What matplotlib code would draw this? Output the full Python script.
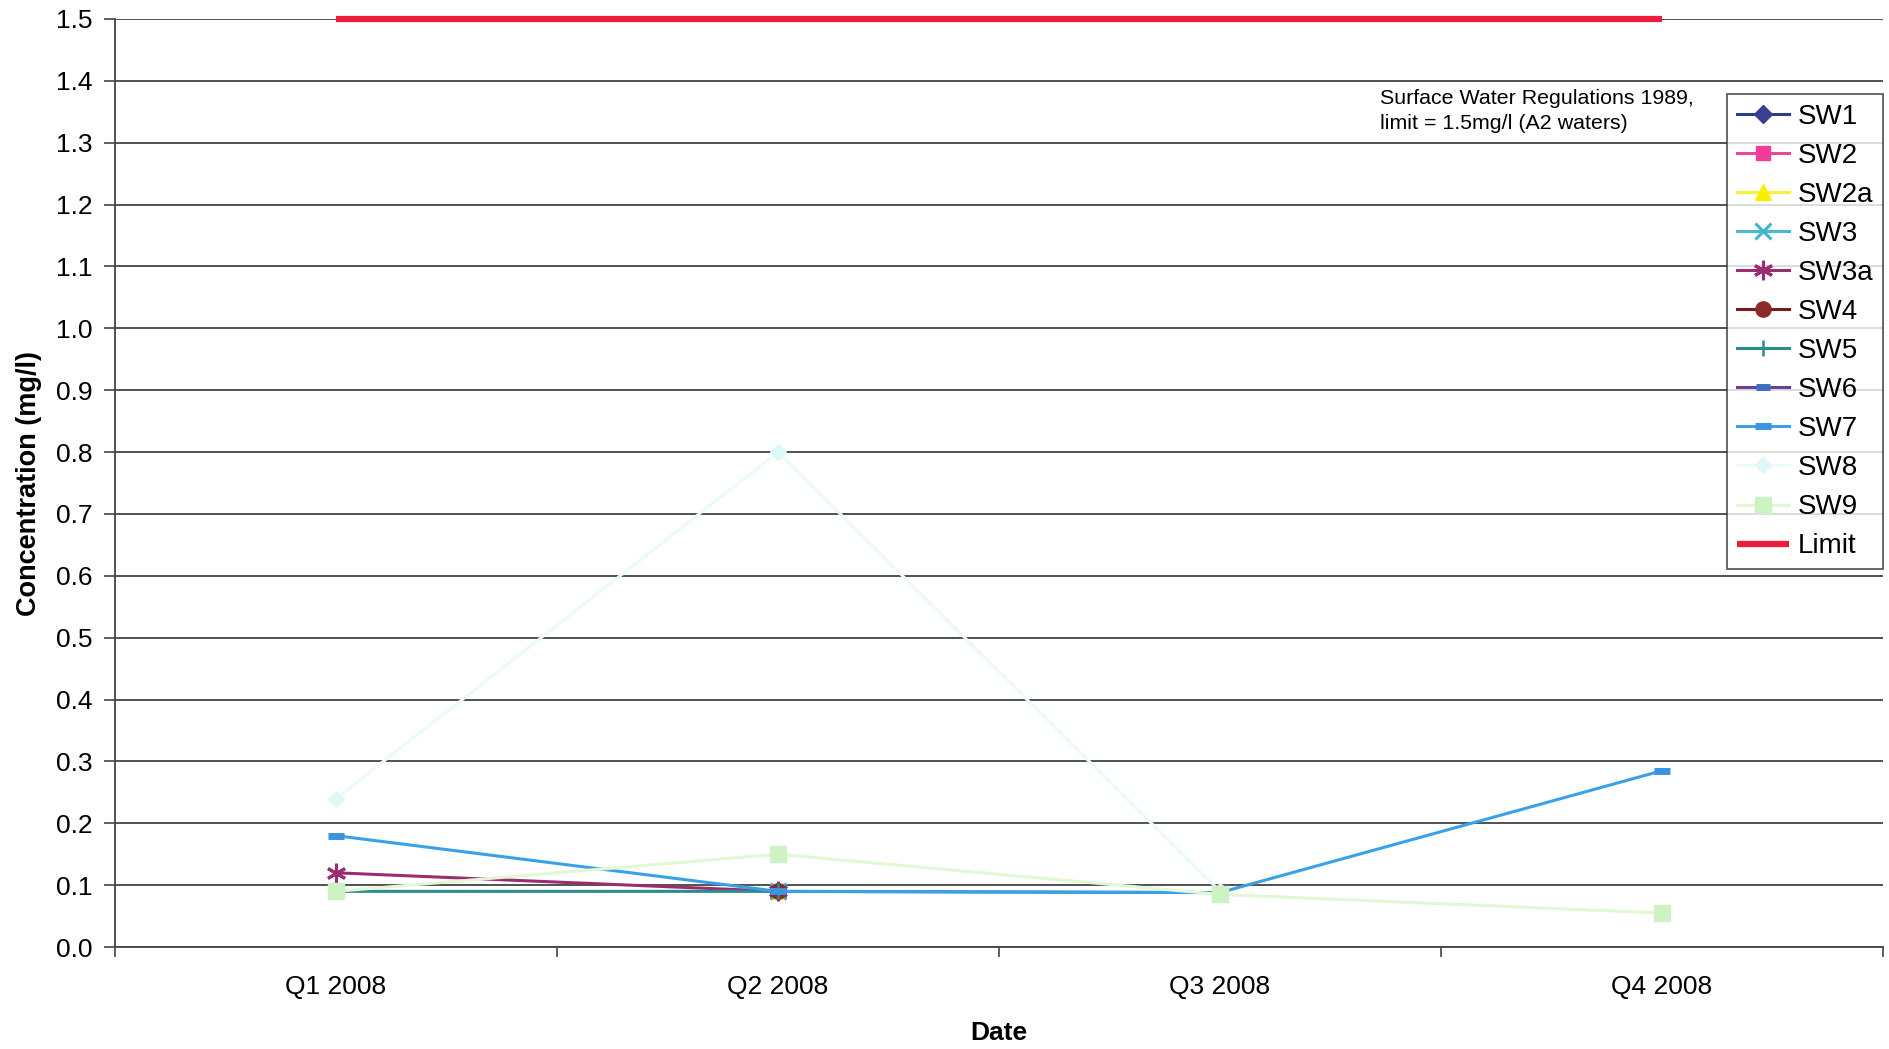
import matplotlib
matplotlib.use("Agg")
import matplotlib.pyplot as plt
import numpy as np

plt.rcParams['font.family'] = ['Liberation Sans', 'DejaVu Sans']

# Sampling quarters
quarters = ["Q1 2008", "Q2 2008", "Q3 2008", "Q4 2008"]
x = np.arange(len(quarters))

# Concentrations (mg/l); None where no sample was reported
sw1 = [None, 0.09, None, None]
sw2 = [None, 0.09, None, None]
sw2a = [None, 0.09, None, None]
sw3 = [None, 0.09, None, None]
sw3a = [0.12, 0.09, None, None]
sw4 = [None, 0.09, None, None]
sw5 = [0.09, 0.09, 0.088, None]
sw6 = [None, 0.09, None, None]
sw7 = [0.18, 0.09, 0.088, 0.285]
sw8 = [0.24, 0.80, 0.09, None]
sw9 = [0.09, 0.15, 0.085, 0.055]
limit = [1.5, 1.5, 1.5, 1.5]

yticks = np.round(np.arange(0, 1.51, 0.1), 1)

series = [
    ("SW1", sw1, dict(color="#2e3a8c", marker="D", ms=9, mfc="#3b3f8f", mec="#3b3f8f")),
    ("SW2", sw2, dict(color="#f0449a", marker="s", ms=10, mfc="#f23d96", mec="#f23d96")),
    ("SW2a", sw2a, dict(color="#f6f23a", marker="^", ms=11, mfc="#f8f000", mec="#f8f000")),
    ("SW3", sw3, dict(color="#4bb9cf", marker="x", ms=11, mew=2.2, mec="#40b6c8")),
    ("SW3a", sw3a, dict(color="#9b2d6e", marker=(6, 2, 0), ms=14, mew=2.2, mec="#9b2d72")),
    ("SW4", sw4, dict(color="#7a1b1b", marker="o", ms=11, mfc="#8a2a2a", mec="#8a2a2a")),
    ("SW5", sw5, dict(color="#2d8c8c", marker="+", ms=12, mew=1.8, mec="#2d8c8c")),
    ("SW6", sw6, dict(color="#6a3f95", marker="_", ms=10, mew=5, mec="#3a6fc0")),
    ("SW7", sw7, dict(color="#3aa0e8", marker="_", ms=12, mew=5, mec="#3a94e0")),
    ("SW8", sw8, dict(color="#ebfafb", marker="D", ms=8, mfc="#def7f9", mec="#def7f9")),
    ("SW9", sw9, dict(color="#e2f7d4", marker="s", ms=11, mfc="#cdf3c5", mec="#cdf3c5")),
]

fig = plt.figure(figsize=(18.89, 10.49), dpi=100)
ax = fig.add_axes([0.0609, 0.0972, 0.9359, 0.8847])

for name, vals, style in series:
    v = np.array([np.nan if d is None else d for d in vals], dtype=float)
    ax.plot(x, v, lw=2.2, label=name, zorder=3, **style)

ax.plot(x, limit, color="#ee1c3c", lw=4.5, label="Limit", zorder=4,
        solid_capstyle="butt", clip_on=False)

ax.set_xlim(-0.5, 3.5)
ax.set_ylim(0, 1.5)
ax.set_yticks(yticks)
ax.set_yticklabels([f"{t:.1f}" for t in yticks], fontsize=19)
ax.yaxis.grid(True, color="#333333", lw=1.2, zorder=0)

ax.set_xticks(x)
ax.set_xticklabels(quarters, fontsize=19)
ax.set_xticks(np.arange(-0.5, 4.0, 1.0), minor=True)
ax.tick_params(axis="x", which="major", length=0, pad=20)
ax.tick_params(axis="x", which="minor", length=7, width=1.2, color="#444444")
ax.tick_params(axis="y", length=8, width=1.2, color="#444444", pad=8)

for side in ("top", "right"):
    ax.spines[side].set_visible(False)
for side in ("left", "bottom"):
    ax.spines[side].set_color("#444444")
    ax.spines[side].set_linewidth(1.3)

ax.set_xlabel("Date", fontsize=19, fontweight="bold", labelpad=16)
ax.set_ylabel("Concentration (mg/l)", fontsize=19.5, fontweight="bold", labelpad=10)

fig.text(1380 / 1889, 1 - 111 / 1049,
         "Surface Water Regulations 1989,\nlimit = 1.5mg/l (A2 waters)",
         fontsize=15.4, va="center", ha="left", linespacing=1.35)

leg = ax.legend(loc="upper right", bbox_to_anchor=(1883 / 1889, 1 - 94 / 1049),
                bbox_transform=fig.transFigure, fontsize=20, frameon=True,
                fancybox=False, edgecolor="#333333", handlelength=1.9,
                labelspacing=0.47, borderpad=0.35, handletextpad=0.3,
                borderaxespad=0)
leg.get_frame().set_linewidth(1.3)

fig.savefig("out.png", dpi=100)
